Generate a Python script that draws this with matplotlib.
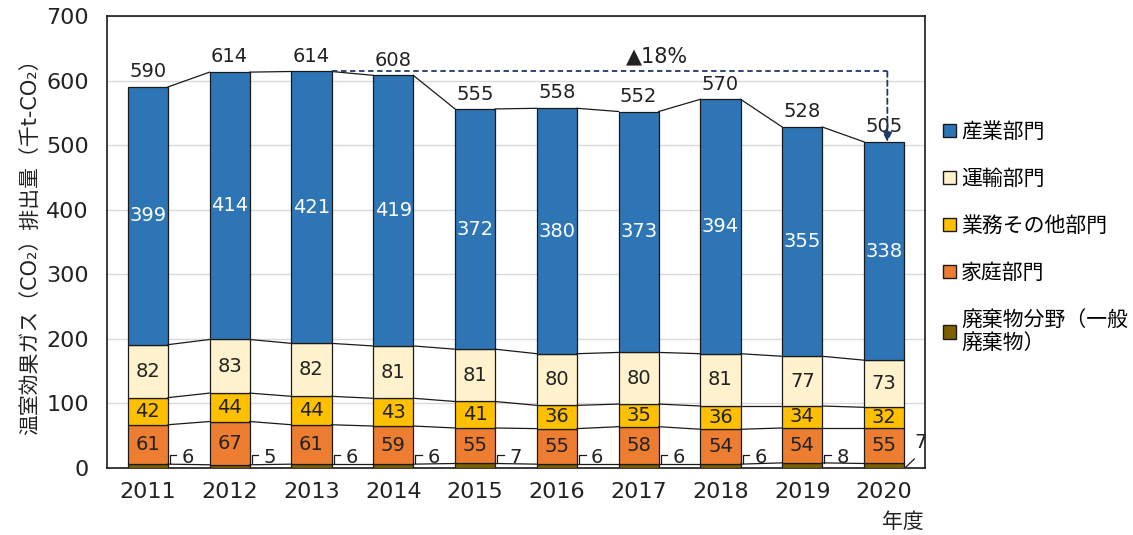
import matplotlib
matplotlib.use("Agg")
import matplotlib.pyplot as plt
from matplotlib.patches import Patch
import numpy as np

plt.rcParams['font.family'] = ['DejaVu Sans', 'Noto Sans CJK JP']

years = ['2011', '2012', '2013', '2014', '2015', '2016', '2017', '2018', '2019', '2020']
waste = [6, 5, 6, 6, 7, 6, 6, 6, 8, 7]
household = [61, 67, 61, 59, 55, 55, 58, 54, 54, 55]
business = [42, 44, 44, 43, 41, 36, 35, 36, 34, 32]
transport = [82, 83, 82, 81, 81, 80, 80, 81, 77, 73]
industry = [399, 414, 421, 419, 372, 380, 373, 394, 355, 338]
totals = [590, 614, 614, 608, 555, 558, 552, 570, 528, 505]
series_names = ['廃棄物分野（一般\n廃棄物）', '家庭部門', '業務その他部門', '運輸部門', '産業部門']
colors = ['#7F6000', '#ED7D31', '#FFC000', '#FFF2CC', '#2E75B6']
label_colors = [None, '#222222', '#222222', '#222222', 'white']
change_label = '▲18%'

fig = plt.figure(figsize=(11.33, 5.35), dpi=100)
ax = fig.add_axes([0.0944, 0.1252, 0.722, 0.845])

x = np.arange(len(years))
w = 0.49
lab_fs = 14
data = [waste, household, business, transport, industry]
bottom = np.zeros(len(years))
tops = []
for vals, c, lc in zip(data, colors, label_colors):
    vals = np.array(vals, dtype=float)
    ax.bar(x, vals, w, bottom=bottom, color=c, edgecolor='#1a1a1a', linewidth=0.9, zorder=3)
    if lc is not None:
        for xi, b, v in zip(x, bottom, vals):
            ax.text(xi, b + v / 2, f'{int(v)}', ha='center', va='center', color=lc,
                    fontsize=lab_fs, zorder=5)
    bottom = bottom + vals
    tops.append(bottom.copy())

# connecting lines
for t in tops:
    for i in range(len(years) - 1):
        ax.plot([x[i] + w / 2, x[i + 1] - w / 2], [t[i], t[i + 1]], color='#1a1a1a',
                linewidth=0.9, zorder=4)

# waste labels with leaders
for i, v in enumerate(waste):
    if i < len(years) - 1:
        ax.plot([x[i] + 0.27, x[i] + 0.27, x[i] + 0.35], [8, 20, 20], color='#1a1a1a',
                linewidth=0.9, zorder=4)
        ax.text(x[i] + 0.49, 17, f'{v}', ha='center', va='center', fontsize=lab_fs,
                color='#222222', zorder=5)
    else:
        ax.plot([x[i] + 0.27, x[i] + 0.37], [2, 14], color='#1a1a1a', linewidth=0.9, zorder=4)
        ax.text(x[i] + 0.44, 40, f'{v}', ha='center', va='center', fontsize=lab_fs,
                color='#222222', zorder=5)

# totals
for xi, t in zip(x, totals):
    ax.annotate(f'{t}', (xi, t), xytext=(0, 4), textcoords='offset points', ha='center',
                va='bottom', fontsize=lab_fs, color='#222222', zorder=5)

# change arrow
ax.plot([x[2] + w / 2, x[9] + 0.04], [totals[2], totals[2]], color='#1F3864',
        linestyle=(0, (3, 2)), linewidth=1.3, zorder=6)
ax.annotate('', xy=(x[9] + 0.04, totals[9]), xytext=(x[9] + 0.04, totals[2]),
            arrowprops=dict(arrowstyle='-|>', color='#1F3864', linestyle=(0, (3, 2)),
                            linewidth=1.3, mutation_scale=14, shrinkA=0, shrinkB=0), zorder=6)
ax.text(6.22, 637, change_label, ha='center', va='center', fontsize=15, color='#222222')

ax.set_xlim(-0.5, 9.5)
ax.set_ylim(0, 700)
ax.set_yticks(range(0, 701, 100))
ax.set_xticks(x)
ax.set_xticklabels(years)
ax.tick_params(axis='both', length=0, labelsize=16, colors='#222222')
ax.tick_params(axis='x', pad=10)
ax.tick_params(axis='y', pad=13)
ax.yaxis.grid(True, color='#d9d9d9', linewidth=1.0, zorder=0)
ax.set_axisbelow(True)
for s in ax.spines.values():
    s.set_color('#1a1a1a')
    s.set_linewidth(1.2)

ax.set_ylabel('温室効果ガス（CO₂）排出量（千t-CO₂）', fontsize=15, color='#222222', labelpad=4)
fig.text(0.797, 0.024, '年度', fontsize=15, color='#222222', ha='center', va='center')

handles = [Patch(facecolor=c, edgecolor='#1a1a1a', linewidth=1.0) for c in colors[::-1]]
fig.legend(handles, series_names[::-1], loc='upper left', bbox_to_anchor=(0.816, 0.808),
           frameon=False, fontsize=15, handlelength=0.6, handleheight=0.6,
           handletextpad=0.25, labelspacing=1.3)

fig.savefig('out.png', dpi=100)
